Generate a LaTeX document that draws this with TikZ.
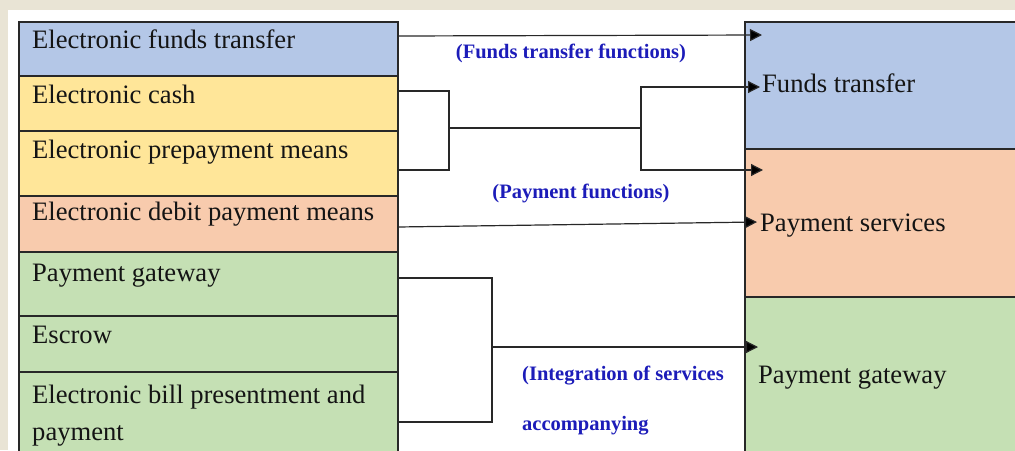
\documentclass[tikz,border=0pt]{standalone}
\usepackage{fontspec}
\setmainfont{Liberation Serif}
\usetikzlibrary{arrows.meta,calc}
\definecolor{pagebg}{RGB}{233,228,213}
\definecolor{eftblue}{RGB}{180,199,231}
\definecolor{cashyellow}{RGB}{255,230,153}
\definecolor{debitsalmon}{RGB}{248,203,173}
\definecolor{gwgreen}{RGB}{197,224,180}
\definecolor{fnblue}{RGB}{28,28,185}
\definecolor{edge}{RGB}{40,40,40}
\begin{document}
\begin{tikzpicture}[x=1pt,y=-1pt,
  cell/.style={draw=edge, line width=1.2pt, minimum width=379pt, anchor=north west, inner sep=0pt, outer sep=0pt},
  rcell/.style={draw=edge, line width=1.2pt, minimum width=290pt, anchor=north west, inner sep=0pt, outer sep=0pt},
  item/.style={inner sep=0pt, font=\fontsize{26.6}{37}\selectfont, text=black!92},
  fn/.style={inner sep=0pt, font=\bfseries\fontsize{20.5}{50}\selectfont, text=fnblue},
  link/.style={draw=edge, line width=1.2pt},
  arr/.style={link, -{Triangle[length=12pt,width=12pt,fill=black]}}
]
% page and sheet
\fill[pagebg] (0,0) rectangle (1015,450);
\fill[white] (8,10) rectangle (1015,450);
\useasboundingbox (0,0) rectangle (1015,450);

% left column: payment instruments
\node[cell, fill=eftblue,     minimum height=54pt] (eft)    at (19,22)  {};
\node[cell, fill=cashyellow,  minimum height=55pt] (cash)   at (19,76)  {};
\node[cell, fill=cashyellow,  minimum height=65pt] (prep)   at (19,131) {};
\node[cell, fill=debitsalmon, minimum height=56pt] (debit)  at (19,196) {};
\node[cell, fill=gwgreen,     minimum height=64pt] (gw)     at (19,252) {};
\node[cell, fill=gwgreen,     minimum height=56pt] (escrow) at (19,316) {};
\node[cell, fill=gwgreen,     minimum height=95pt] (ebpp)   at (19,372) {};

\node[item, anchor=base west] (teft)    at (32,48)  {Electronic funds transfer};
\node[item, anchor=base west] (tcash)   at (32,103) {Electronic cash};
\node[item, anchor=base west] (tprep)   at (32,158) {Electronic prepayment means};
\node[item, anchor=base west] (tdebit)  at (32,220) {Electronic debit payment means};
\node[item, anchor=base west] (tgw)     at (32,281) {Payment gateway};
\node[item, anchor=base west] (tescrow) at (32,343) {Escrow};
\node[item, anchor=north west, align=left] (tebpp) at (32,385) {Electronic bill presentment and\\payment};

% right column: functions served
\node[rcell, fill=eftblue,     minimum height=127pt] (rft) at (745,22)  {};
\node[rcell, fill=debitsalmon, minimum height=148pt] (rps) at (745,149) {};
\node[rcell, fill=gwgreen,     minimum height=170pt] (rgw) at (745,297) {};

\node[item, anchor=base west] (tft) at (762,92)  {Funds transfer};
\node[item, anchor=base west] (tps) at (760,231) {Payment services};
\node[item, anchor=base west] (trg) at (758,383) {Payment gateway};

% function labels
\node[fn, anchor=base] (lft) at (571,58)  {(Funds transfer functions)};
\node[fn, anchor=base] (lpf) at (581,198) {(Payment functions)};
\node[fn, anchor=north west, align=left] (lis) at (522,366) {(Integration of services\\accompanying};

% connector end points
\coordinate (eftout)  at ($(eft.north east)+(0,14)$);
\coordinate (cashout) at ($(cash.north east)+(0,15)$);
\coordinate (prepout) at ($(prep.north east)+(0,39)$);
\coordinate (debout)  at ($(debit.north east)+(0,31)$);
\coordinate (gwout)   at ($(gw.north east)+(0,26)$);
\coordinate (ebpout)  at ($(ebpp.north east)+(0,50)$);
\coordinate (joinA)   at (449,128);
\coordinate (splitA)  at (641,128);
\coordinate (joinB)   at (492,347);
\coordinate (ftinA)   at (762,35);
\coordinate (ftinB)   at (760,87);
\coordinate (psinA)   at (763,170);
\coordinate (psinB)   at (757,222);
\coordinate (gwin)    at (758,347);

% connectors
\draw[arr] (eftout) -- (ftinA);
\draw[link] (cashout) -| (joinA);
\draw[link] (prepout) -| (joinA);
\draw[link] (joinA) -- (splitA);
\draw[arr] (splitA) |- (ftinB);
\draw[arr] (splitA) |- (psinA);
\draw[arr] (debout) -- (psinB);
\draw[link] (gwout) -| (joinB);
\draw[link] (ebpout) -| (joinB);
\draw[arr] (joinB) -- (gwin);
\end{tikzpicture}
\end{document}
